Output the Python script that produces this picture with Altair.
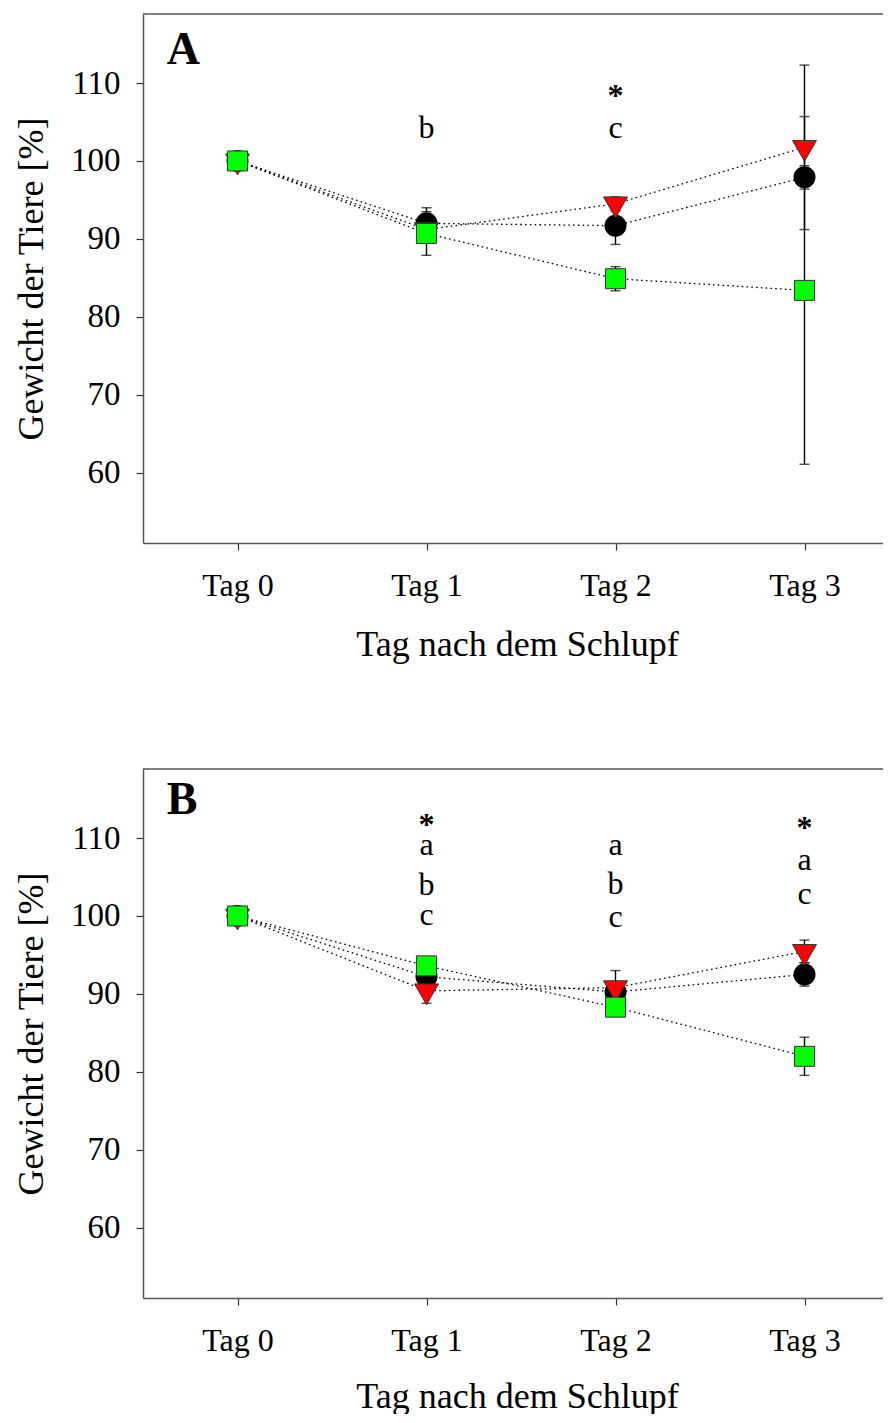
import altair as alt
import pandas as pd

# ---------------- data ----------------
days = [0, 1, 2, 3]
series_names = ["schwarz", "rot", "gruen"]

# Panel A
a_black = [100.0, 92.0, 91.7, 97.9]
a_black_err = [0.8, 2.0, 2.4, 1.5]
a_red = [100.0, 91.2, 94.5, 101.75]
a_red_err = [0.8, 1.0, 0.9, 10.55]
a_green = [100.0, 90.7, 84.9, 83.4]
a_green_err = [0.8, 2.8, 1.55, 22.3]

# Panel B
b_black = [100.0, 92.2, 90.25, 92.5]
b_black_err = [0.8, 1.0, 1.0, 1.5]
b_red = [100.0, 90.4, 90.8, 95.45]
b_red_err = [0.8, 1.6, 2.2, 1.45]
b_green = [100.0, 93.6, 88.3, 82.0]
b_green_err = [0.8, 1.0, 1.0, 2.45]

# significance annotations (text, day, value)
a_note_text = ["b", "c", "*"]
a_note_day = [1, 2, 2]
a_note_val = [102.9, 102.9, 107.0]

b_note_text = ["*", "a", "b", "c", "a", "b", "c", "*", "a", "c"]
b_note_day = [1, 1, 1, 1, 2, 2, 2, 3, 3, 3]
b_note_val = [110.36, 107.77, 102.64, 98.8, 107.77, 102.86, 98.63, 110.05, 105.85, 101.58]

y_ticks = [60, 70, 80, 90, 100, 110]

# ---------------- styling ----------------
FONT = "Liberation Serif"
W, H = 748, 529
XDOM = [-0.5, -0.5 + W / 189.0]
YDOM = [51.0, 118.85]


def build_df(black, black_err, red, red_err, green, green_err):
    rows = []
    for name, vals, errs in zip(series_names, [black, red, green], [black_err, red_err, green_err]):
        for d, v, e in zip(days, vals, errs):
            rows.append({"day": d, "value": v, "lo": v - e, "hi": v + e, "series": name})
    return pd.DataFrame(rows)


def panel(df, notes, letter, letter_val, x_title_pad):
    xenc = alt.X(
        "day:Q",
        scale=alt.Scale(domain=XDOM, nice=False, zero=False),
        axis=alt.Axis(
            values=days,
            labelExpr="'Tag ' + datum.value",
            title="Tag nach dem Schlupf",
            labelFontSize=32,
            labelPadding=20,
            titleFontSize=36,
            titlePadding=x_title_pad,
        ),
    )
    yaxis = alt.Axis(
        values=y_ticks,
        title="Gewicht der Tiere [%]",
        labelFontSize=33,
        labelPadding=16,
        titleFontSize=36,
        titlePadding=20,
    )
    yscale = alt.Scale(domain=YDOM, nice=False, zero=False)

    base = alt.Chart(df)

    lines = base.mark_line(color="black", strokeWidth=1.3, strokeDash=[1.6, 3.2]).encode(
        x=xenc, y=alt.Y("value:Q", scale=yscale, axis=yaxis), detail="series:N"
    )
    bars = base.mark_rule(color="black", strokeWidth=1.4).encode(
        x=xenc, y=alt.Y("lo:Q", scale=yscale, axis=yaxis), y2="hi:Q"
    )
    cap_lo = base.mark_tick(orient="horizontal", size=10, thickness=1.4, color="black").encode(
        x=xenc, y=alt.Y("lo:Q", scale=yscale, axis=yaxis)
    )
    cap_hi = base.mark_tick(orient="horizontal", size=10, thickness=1.4, color="black").encode(
        x=xenc, y=alt.Y("hi:Q", scale=yscale, axis=yaxis)
    )
    circles = base.transform_filter(alt.datum.series == "schwarz").mark_point(
        shape="circle", size=484, filled=True, color="black", opacity=1
    ).encode(x=xenc, y=alt.Y("value:Q", scale=yscale, axis=yaxis))
    tris = base.transform_filter(alt.datum.series == "rot").mark_point(
        shape="triangle-down", size=576, filled=True, fill="#ff0000", stroke="#333333",
        strokeWidth=1, opacity=1, yOffset=3.5
    ).encode(x=xenc, y=alt.Y("value:Q", scale=yscale, axis=yaxis))
    squares = base.transform_filter(alt.datum.series == "gruen").mark_point(
        shape="square", size=400, filled=True, fill="#00ff00", stroke="#333333",
        strokeWidth=1, opacity=1
    ).encode(x=xenc, y=alt.Y("value:Q", scale=yscale, axis=yaxis))

    note_df = pd.DataFrame(notes)
    letters = alt.Chart(note_df[note_df["text"] != "*"]).mark_text(
        font=FONT, fontSize=32, color="black", align="center", baseline="alphabetic"
    ).encode(x=xenc, y=alt.Y("value:Q", scale=yscale, axis=yaxis), text="text:N")
    stars = alt.Chart(note_df[note_df["text"] == "*"]).mark_text(
        font=FONT, fontSize=32, fontWeight="bold", color="black", align="center", baseline="alphabetic"
    ).encode(x=xenc, y=alt.Y("value:Q", scale=yscale, axis=yaxis), text="text:N")

    lab = alt.Chart(pd.DataFrame({"text": [letter], "day": [-0.375], "value": [letter_val]})).mark_text(
        font=FONT, fontSize=46, fontWeight="bold", color="black", align="left", baseline="alphabetic"
    ).encode(x=xenc, y=alt.Y("value:Q", scale=yscale, axis=yaxis), text="text:N")

    top_border = alt.Chart(pd.DataFrame({"z": [0]})).mark_rule(color="#555555", strokeWidth=1.5).encode(
        x=alt.value(0), x2=alt.value(W), y=alt.value(0)
    )

    return alt.layer(
        top_border, lines, bars, cap_lo, cap_hi, circles, tris, squares, letters, stars, lab
    ).properties(width=W, height=H)


df_a = build_df(a_black, a_black_err, a_red, a_red_err, a_green, a_green_err)
df_b = build_df(b_black, b_black_err, b_red, b_red_err, b_green, b_green_err)

notes_a = {"text": a_note_text, "day": a_note_day, "value": a_note_val}
notes_b = {"text": b_note_text, "day": b_note_day, "value": b_note_val}

chart = alt.vconcat(
    panel(df_a, notes_a, "A", 112.5, 26),
    panel(df_b, notes_b, "B", 113.1, 23),
    spacing=106,
).configure_view(strokeWidth=0, stroke="transparent").configure_axis(
    grid=False,
    domainColor="#555555",
    domainWidth=1.5,
    tickColor="#333333",
    tickWidth=1.2,
    tickSize=7,
    labelFont=FONT,
    labelColor="black",
    titleFont=FONT,
    titleColor="black",
    titleFontWeight="normal",
    labelOverlap=False,
).properties(
    padding={"left": 5, "top": 5, "right": -9, "bottom": 0},
    background="white",
)

chart.save("out.html", embed_options={"renderer": "svg", "actions": False})
